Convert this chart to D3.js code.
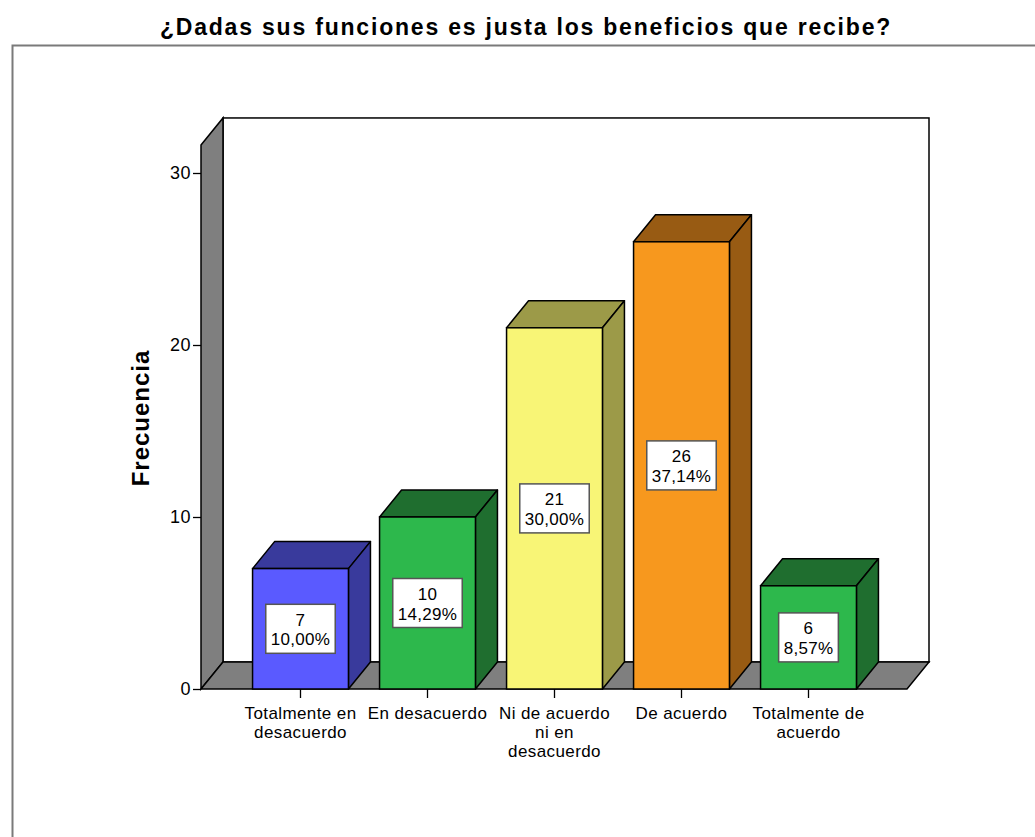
<!DOCTYPE html>
<html>
<head>
<meta charset="utf-8">
<script src="https://cdn.jsdelivr.net/npm/d3@7"></script>
<style>
body { margin: 0; background: #fff; }
text { font-family: "Liberation Sans", Arial, sans-serif; }
</style>
</head>
<body>
<script>
var width = 1035,
    height = 837;

// data
var categories = ["Totalmente en desacuerdo", "En desacuerdo", "Ni de acuerdo ni en desacuerdo", "De acuerdo", "Totalmente de acuerdo"];
var counts = [7, 10, 21, 26, 6];
var percents = ["10,00%", "14,29%", "30,00%", "37,14%", "8,57%"];
var yTicks = [0, 10, 20, 30];
var frontColors = ["#5a5aff", "#2db84c", "#f8f576", "#f7981e", "#2db84c"];
var sideColors = ["#393a9c", "#1f6e2f", "#9c9a48", "#985b13", "#1f6e2f"];

var dx = 22, dy = -27;

var svg = d3.select("body").append("svg")
    .attr("width", width)
    .attr("height", height);

// outer frame
svg.append("path")
    .attr("d", "M12.5," + height + "V45.5H" + width)
    .attr("fill", "none")
    .attr("stroke", "#7a7a7a")
    .attr("stroke-width", 2);

svg.append("text")
    .attr("x", 526)
    .attr("y", 35)
    .attr("text-anchor", "middle")
    .style("font-size", "23px")
    .style("font-weight", "bold")
    .style("letter-spacing", "1.8px")
    .text("¿Dadas sus funciones es justa los beneficios que recibe?");

var y = d3.scaleLinear().domain([0, 30]).range([689, 173]);
var x = d3.scaleBand().domain(categories).range([237, 872])
    .paddingInner(0.245).paddingOuter(0.1225);

var x0 = 201, x1 = 907, yTop = y(31.63), y0 = y(0);

// back wall
svg.append("rect")
    .attr("x", x0 + dx).attr("y", yTop + dy)
    .attr("width", x1 - x0).attr("height", y0 - yTop)
    .attr("fill", "#fff").attr("stroke", "#000").attr("stroke-width", 1.5);

// left wall
svg.append("polygon")
    .attr("points", [[x0, yTop], [x0 + dx, yTop + dy], [x0 + dx, y0 + dy], [x0, y0]].join(" "))
    .attr("fill", "#7f7f7f").attr("stroke", "#000").attr("stroke-width", 1.5);

// floor
svg.append("polygon")
    .attr("points", [[x0, y0], [x0 + dx, y0 + dy], [x1 + dx, y0 + dy], [x1, y0]].join(" "))
    .attr("fill", "#7f7f7f").attr("stroke", "#000").attr("stroke-width", 1.5);

// y axis
var yAxis = svg.append("g").attr("transform", "translate(" + x0 + ",0)")
    .call(d3.axisLeft(y).tickValues(yTicks).tickSize(8).tickPadding(2));
yAxis.select(".domain").remove();
yAxis.selectAll("line").attr("stroke", "#000").attr("stroke-width", 1.3);
yAxis.selectAll("text").style("font-size", "18px").style("letter-spacing", "0.5px").attr("fill", "#000");

svg.append("text")
    .attr("transform", "translate(149,418) rotate(-90)")
    .attr("text-anchor", "middle")
    .style("font-size", "24px")
    .style("font-weight", "bold")
    .style("letter-spacing", "1px")
    .text("Frecuencia");

// bars
var bw = x.bandwidth();
var bars = svg.selectAll("g.bar").data(categories).enter().append("g").attr("class", "bar");

bars.append("polygon")
    .attr("points", function(d, i) {
        var l = x(d), r = l + bw, t = y(counts[i]);
        return [[l, t], [l + dx, t + dy], [r + dx, t + dy], [r, t]].join(" ");
    })
    .attr("fill", function(d, i) { return sideColors[i]; })
    .attr("stroke", "#000").attr("stroke-width", 1.5).attr("stroke-linejoin", "round");

bars.append("polygon")
    .attr("points", function(d, i) {
        var r = x(d) + bw, t = y(counts[i]);
        return [[r, t], [r + dx, t + dy], [r + dx, y0 + dy], [r, y0]].join(" ");
    })
    .attr("fill", function(d, i) { return sideColors[i]; })
    .attr("stroke", "#000").attr("stroke-width", 1.5).attr("stroke-linejoin", "round");

bars.append("rect")
    .attr("x", function(d) { return x(d); })
    .attr("y", function(d, i) { return y(counts[i]); })
    .attr("width", bw)
    .attr("height", function(d, i) { return y0 - y(counts[i]); })
    .attr("fill", function(d, i) { return frontColors[i]; })
    .attr("stroke", "#000").attr("stroke-width", 1.5);

// value labels
bars.each(function(d, i) {
    var g = d3.select(this);
    var cx = x(d) + bw / 2, cy = (y(counts[i]) + y0) / 2;
    var box = g.append("rect");
    var t = g.append("text")
        .attr("text-anchor", "middle")
        .style("font-size", "17px")
        .style("letter-spacing", "0.3px");
    t.append("tspan").attr("x", cx).attr("y", cy - 3).text(counts[i]);
    t.append("tspan").attr("x", cx).attr("y", cy + 16.5).text(percents[i]);
    var w = d3.max(t.selectAll("tspan").nodes(), function(n) { return n.getComputedTextLength(); });
    box.attr("x", cx - w / 2 - 5).attr("y", cy - 24.5)
        .attr("width", w + 10).attr("height", 49)
        .attr("fill", "#fff").attr("stroke", "#555").attr("stroke-width", 1.5);
});

// x axis ticks and labels
var xg = svg.append("g");
categories.forEach(function(d) {
    var cx = x(d) + bw / 2;
    xg.append("line")
        .attr("x1", cx).attr("x2", cx).attr("y1", y0).attr("y2", y0 + 9)
        .attr("stroke", "#000").attr("stroke-width", 1.3);
    var t = xg.append("text")
        .attr("text-anchor", "middle")
        .style("font-size", "17px")
        .style("letter-spacing", "0.4px");
    var words = d.split(" "), line = [], lineNo = 0;
    var tspan = t.append("tspan").attr("x", cx).attr("y", 719);
    words.forEach(function(wd) {
        line.push(wd);
        tspan.text(line.join(" "));
        if (tspan.node().getComputedTextLength() > 126 && line.length > 1) {
            line.pop();
            tspan.text(line.join(" "));
            line = [wd];
            lineNo++;
            tspan = t.append("tspan").attr("x", cx).attr("y", 719 + lineNo * 19).text(wd);
        }
    });
});
</script>
</body>
</html>
